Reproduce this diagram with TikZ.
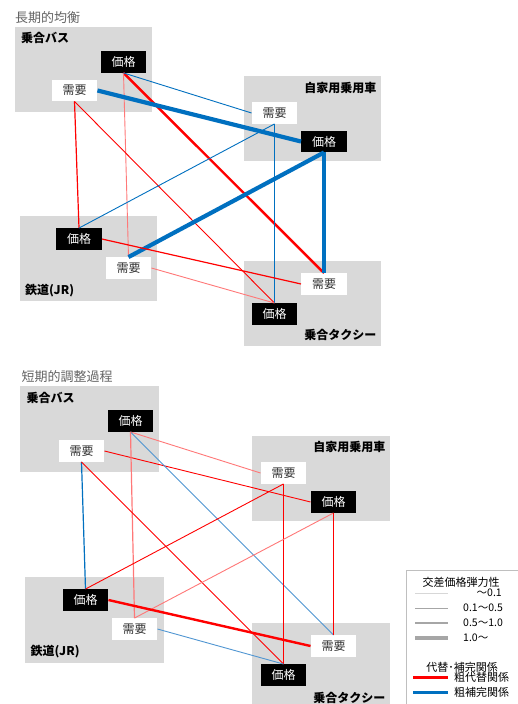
\documentclass[tikz,border=0pt]{standalone}
\usepackage{fontspec}
\setmainfont{Noto Sans CJK JP}
\definecolor{boxgray}{RGB}{217,217,217}
\definecolor{subred}{RGB}{255,0,0}
\definecolor{sublight}{RGB}{255,120,120}
\definecolor{compblue}{RGB}{0,112,192}
\definecolor{complight}{RGB}{80,150,210}
\definecolor{titlegray}{RGB}{100,100,100}
\definecolor{textgray}{RGB}{50,50,50}
\definecolor{legline}{RGB}{166,166,166}
\definecolor{legthin}{RGB}{215,215,215}
\definecolor{legframe}{RGB}{191,191,191}
\begin{document}
\begin{tikzpicture}[x=1pt,y=-1pt,
  price/.style={fill=black,text=white,minimum width=45.5pt,minimum height=21.5pt,inner sep=0pt,font=\fontsize{12}{14}\selectfont},
  demand/.style={fill=white,text=textgray,minimum width=45.5pt,minimum height=21.5pt,inner sep=0pt,font=\fontsize{12}{14}\selectfont},
  group/.style={font=\bfseries\fontsize{12}{14}\selectfont,inner sep=0pt},
  heading/.style={font=\fontsize{13}{15}\selectfont,text=titlegray,inner sep=0pt,anchor=west},
  leg/.style={font=\fontsize{10.5}{12}\selectfont,inner sep=0pt},
  sub/.style={draw=subred},
  subl/.style={draw=sublight},
  comp/.style={draw=compblue},
  compl/.style={draw=complight},
  e1/.style={line width=0.9pt},
  e2/.style={line width=1.2pt},
  e3/.style={line width=2.4pt},
  e4/.style={line width=4.2pt}]
\useasboundingbox (0,0) rectangle (517,704);
\fill[white] (0,0) rectangle (517,704);
% long-run panel
\fill[boxgray] (15,27) rectangle (152,111.5);
\fill[boxgray] (244,76) rectangle (381,160.5);
\fill[boxgray] (20,216) rectangle (157,300.5);
\fill[boxgray] (244,261) rectangle (381,345.5);
% short-run panel
\fill[boxgray] (20,386) rectangle (158.5,471.5);
\fill[boxgray] (252,436) rectangle (390,520.5);
\fill[boxgray] (25,577) rectangle (164,662.5);
\fill[boxgray] (252,623) rectangle (390,710);

\node[heading] (title1) at (15,18) {長期的均衡};
\node[group,anchor=west] (bus1) at (21,38) {乗合バス};
\node[group,anchor=east] (car1) at (376.5,88) {自家用乗用車};
\node[group,anchor=west] (rail1) at (25,291) {鉄道(JR)};
\node[group,anchor=east] (taxi1) at (376.5,335) {乗合タクシー};
\node[price] (bp1) at (123.5,62) {価格};
\node[demand] (bd1) at (74.5,90.5) {需要};
\node[demand] (cd1) at (274.5,113) {需要};
\node[price] (cp1) at (324,141.5) {価格};
\node[price] (rp1) at (79,239) {価格};
\node[demand] (rd1) at (128.5,268) {需要};
\node[demand] (td1) at (324,284) {需要};
\node[price] (tp1) at (274.5,314) {価格};

\node[heading] (title2) at (21.5,377) {短期的調整過程};
\node[group,anchor=west] (bus2) at (26.5,397.5) {乗合バス};
\node[group,anchor=east] (car2) at (385.5,447) {自家用乗用車};
\node[group,anchor=west] (rail2) at (30.5,652) {鉄道(JR)};
\node[group,anchor=east] (taxi2) at (385.5,697.5) {乗合タクシー};
\node[price] (bp2) at (130.5,421) {価格};
\node[demand] (bd2) at (81.5,451) {需要};
\node[demand] (cd2) at (283.5,473) {需要};
\node[price] (cp2) at (333.5,502) {価格};
\node[price] (rp2) at (85.5,600) {価格};
\node[demand] (rd2) at (134.5,629) {需要};
\node[demand] (td2) at (333.5,646) {需要};
\node[price] (tp2) at (283.5,675) {価格};

% long-run elasticities
\draw[sub,e3] (bp1.south) -- (td1.north);
\draw[subl,e1] (bp1.south) -- (rd1.north);
\draw[comp,e1] (bp1.south) -- (cd1.west);
\draw[comp,e4] (bd1.east) -- (cp1.west);
\draw[sub,e2] (bd1.south) -- (rp1.north);
\draw[sub,e1] (bd1.south) -- (tp1.north);
\draw[comp,e1] (cd1.south) -- (rp1.north);
\draw[comp,e2] (cd1.south) -- (tp1.north);
\draw[comp,e4] (cp1.south) -- (rd1.north);
\draw[comp,e4] (cp1.south) -- (td1.north);
\draw[sub,e2] (rp1.east) -- (td1.west);
\draw[subl,e1] (rd1.east) -- (tp1.north);
% short-run elasticities
\draw[subl,e1] (bp2.south) -- (cd2.west);
\draw[sub,e1] (bd2.east) -- (cp2.west);
\draw[compl,e1] (bp2.south) -- (td2.north);
\draw[subl,e2] (bp2.south) -- (rd2.north);
\draw[comp,e2] (bd2.south) -- (rp2.north);
\draw[sub,e1] (bd2.south) -- (tp2.north);
\draw[sub,e1] (cd2.south) -- (rp2.north);
\draw[sub,e2] (cd2.south) -- (tp2.north);
\draw[subl,e1] (cp2.south) -- (rd2.north);
\draw[sub,e2] (cp2.south) -- (td2.north);
\draw[sub,e3] (rp2.east) -- (td2.west);
\draw[compl,e1] (rd2.east) -- (tp2.north);

% legend
\draw[legframe] (406.5,570.5) rectangle (520,710);
\node[leg,font=\fontsize{11}{13}\selectfont] (legA) at (461,582) {交差価格弾力性};
\draw[legthin,line width=0.8pt] (415,593) -- (448,593);
\node[leg,anchor=east] (legA1) at (502,593) {〜0.1};
\draw[legline,line width=1pt] (415,608.5) -- (448,608.5);
\node[leg,anchor=west] (legA2) at (463,608) {0.1〜0.5};
\draw[legline,line width=2pt] (415,623) -- (448,623);
\node[leg,anchor=west] (legA3) at (463,622.5) {0.5〜1.0};
\draw[legline,line width=4pt] (415,638) -- (448,638);
\node[leg,anchor=west] (legA4) at (463,638) {1.0〜};
\node[leg,font=\fontsize{11}{13}\selectfont] (legB) at (462,667) {代替･補完関係};
\draw[subred,line width=3pt] (413,677.5) -- (448,677.5);
\node[leg,anchor=west,font=\fontsize{11}{13}\selectfont] (legB1) at (454,677.5) {粗代替関係};
\draw[compblue,line width=3pt] (413,692) -- (448,692);
\node[leg,anchor=west,font=\fontsize{11}{13}\selectfont] (legB2) at (454,692) {粗補完関係};
\end{tikzpicture}
\end{document}
